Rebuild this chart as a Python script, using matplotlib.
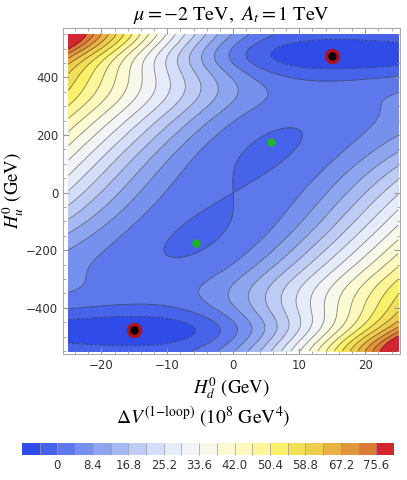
import numpy as np
import matplotlib.pyplot as plt
from matplotlib.colors import ListedColormap, BoundaryNorm

plt.rcParams['mathtext.fontset'] = 'stix'
plt.rcParams['font.family'] = ['DejaVu Sans']

# colour bands of the potential, 10^8 GeV^4
levels = np.round(np.arange(-8.4, 79.81, 4.2), 1)
bar_ticks = [0, 8.4, 16.8, 25.2, 33.6, 42.0, 50.4, 58.8, 67.2, 75.6]
bar_labels = ['0', '8.4', '16.8', '25.2', '33.6', '42.0', '50.4', '58.8', '67.2', '75.6']
band_colors = ['#2F4CE8', '#4763E9', '#5D78EB', '#7690ED', '#8DA5EF', '#A6B9F2',
               '#BECCF5', '#D5DEF8', '#E6EBFA', '#F1F3F6', '#F7F8EA', '#FCFAD2',
               '#FDF9BC', '#FCF59A', '#F9F16A', '#F3DE58', '#EFCD4C', '#E8B244',
               '#E2963C', '#DC7A37', '#D42530']

# minima marked on the plot
glob_hd = [15.0, -15.0]
glob_hu = [475.0, -475.0]
loc_hd = [5.7, -5.7]
loc_hu = [175.0, -175.0]

# shape of the potential
# floor along the valley: bumps at these Hu (GeV), height (10^8 GeV^4), width (GeV)
floor_hu = [160.0, 335.0, 478.0]
floor_dv = [-0.9, 1.9, -7.6]
floor_w = [110.0, 70.0, 70.0]
# left wall foot Hd = a + b tanh((Hu - y0) / w) - dip near the top edge
foot_a, foot_b, foot_y0, foot_w = -3.85, 10.7, 150.0, 250.0
foot_dip, foot_dip_hu, foot_dip_w = 3.0, 560.0, 110.0
# left wall slope (10^8 GeV^4 per GeV)
slope_a, slope_b, slope_y0, slope_w = 1.0, 0.85, -170.0, 160.0
slope_top, slope_top_w = 0.55, 110.0
# extra steepening towards the top-left corner
wall_soft, curv_top, curv_w = 4.0, 0.012, 120.0


def floor(hu):
    out = np.zeros_like(hu)
    for mu, a, w in zip(floor_hu, floor_dv, floor_w):
        out += a * (np.exp(-((hu - mu) / w) ** 2) + np.exp(-((hu + mu) / w) ** 2))
    return out


def left_wall(hd, hu):
    foot = (foot_a + foot_b * np.tanh((hu - foot_y0) / foot_w)
            - foot_dip * np.exp(-((hu - foot_dip_hu) / foot_dip_w) ** 2))
    slope = (slope_a + slope_b * np.tanh((hu - slope_y0) / slope_w)
             + slope_top * np.exp(-((hu - 550.0) / slope_top_w) ** 2))
    curv = curv_top * np.exp(-((hu - 550.0) / curv_w) ** 2)
    s = wall_soft * np.logaddexp(0.0, (foot - hd) / wall_soft)
    return slope * (s + curv * s ** 2)


def potential(hd, hu):
    return floor(hu) + left_wall(hd, hu) + left_wall(-hd, -hu)


hd = np.linspace(-25, 25, 401)
hu = np.linspace(-550, 550, 401)
HD, HU = np.meshgrid(hd, hu)
DV = potential(HD, HU) - potential(np.zeros(1), np.zeros(1))[0]

cmap = ListedColormap(band_colors)
norm = BoundaryNorm(levels, cmap.N)

fig = plt.figure(figsize=(4.07, 4.80), dpi=100)
ax = fig.add_axes([0.155, 0.2625, 0.828, 0.679])
cf = ax.contourf(HD, HU, np.clip(DV, -8.3, 79.7), levels=levels, cmap=cmap, norm=norm)
ax.contour(HD, HU, DV, levels=levels[1:-1], colors='#222222', linewidths=0.6, alpha=0.55)

ax.plot(glob_hd, glob_hu, 'o', color='#B0121C', markersize=10, linestyle='none')
ax.plot(glob_hd, glob_hu, 'o', color='black', markersize=5, linestyle='none')
ax.plot(loc_hd, loc_hu, 'o', color='#1FB51F', markersize=5, linestyle='none')

ax.set_xlim(-25.8, 25.3)
ax.set_ylim(-560, 571)
ax.set_xticks([-20, -10, 0, 10, 20])
ax.set_yticks([-400, -200, 0, 200, 400])
ax.set_xticks(np.arange(-24, 25, 2), minor=True)
ax.set_yticks(np.arange(-550, 551, 50), minor=True)
ax.tick_params(which='both', direction='in', top=True, right=True, colors='#999999',
               labelcolor='#333333', labelsize=8.5)
ax.tick_params(which='major', length=4)
ax.tick_params(which='minor', length=2)
for s in ax.spines.values():
    s.set_color('#AAAAAA')

ax.set_title(r'$\mu = -2\ \mathrm{TeV},\ A_t = 1\ \mathrm{TeV}$', fontsize=14.5, pad=6)
ax.set_xlabel(r'$H_d^0\ \mathrm{(GeV)}$', fontsize=13.5, labelpad=2)
ax.set_ylabel(r'$H_u^0\ \mathrm{(GeV)}$', fontsize=13.5, labelpad=0)

cax = fig.add_axes([0.054, 0.052, 0.914, 0.025])
cb = fig.colorbar(cf, cax=cax, orientation='horizontal', ticks=bar_ticks, drawedges=True)
cb.outline.set_visible(False)
cb.dividers.set_color('#999999')
cb.dividers.set_linewidth(0.5)
cb.ax.minorticks_off()
cb.ax.set_xticklabels(bar_labels)
cb.ax.tick_params(which='both', length=0, labelsize=8.5, labelcolor='#333333', pad=3)
fig.text(0.5, 0.116, r'$\Delta V^{(1\mathrm{-loop})}\ (10^8\ \mathrm{GeV}^4)$', ha='center',
         fontsize=14)

fig.savefig('out.png', dpi=100)
